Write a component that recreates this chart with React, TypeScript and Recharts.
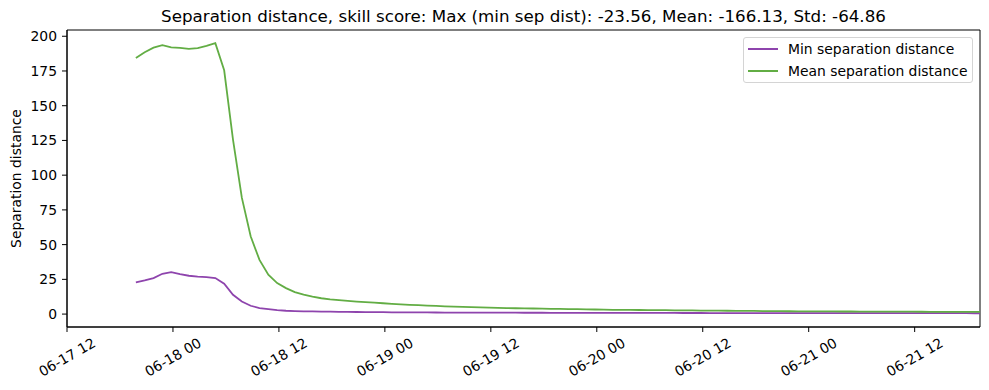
import { LineChart, Line, XAxis, YAxis, Legend, ReferenceArea, Label } from 'recharts';

// hours after 06-17 12:00 of the first sample; samples are hourly
const START_HOUR = 7.8;

const X_TICKS = [0, 12, 24, 36, 48, 60, 72, 84, 96];
const X_TICK_LABELS = ['06-17 12', '06-18 00', '06-18 12', '06-19 00', '06-19 12', '06-20 00', '06-20 12', '06-21 00', '06-21 12'];
const Y_TICKS = [0, 25, 50, 75, 100, 125, 150, 175, 200];

const minSepDist = [
  22.8, 24.2, 25.9, 29.0, 30.2, 28.8, 27.6, 26.9, 26.6, 25.9,
  21.8, 13.9, 9.1, 6.0, 4.3, 3.6, 2.9, 2.4, 2.2, 2.0,
  1.9, 1.8, 1.7, 1.6, 1.55, 1.5, 1.45, 1.4, 1.35, 1.3,
  1.27, 1.24, 1.21, 1.18, 1.15, 1.12, 1.1, 1.08, 1.06, 1.04,
  1.02, 1.0, 0.99, 0.98, 0.97, 0.96, 0.95, 0.94, 0.93, 0.92,
  0.91, 0.9, 0.89, 0.88, 0.87, 0.86, 0.85, 0.84, 0.83, 0.82,
  0.81, 0.8, 0.79, 0.78, 0.77, 0.76, 0.76, 0.75, 0.75, 0.74,
  0.74, 0.73, 0.73, 0.72, 0.72, 0.71, 0.71, 0.7, 0.7, 0.69,
  0.69, 0.68, 0.68, 0.67, 0.67, 0.66, 0.66, 0.65, 0.65, 0.64,
  0.64, 0.63, 0.63, 0.62, 0.62, 0.61, 0.61,
];

const meanSepDist = [
  184.4, 188.5, 191.8, 193.6, 192.0, 191.7, 190.9, 191.5, 193.0, 195.0,
  175.5, 125.6, 83.8, 56.0, 39.0, 28.3, 22.3, 18.7, 15.8, 14.0,
  12.6, 11.4, 10.6, 10.0, 9.5, 9.0, 8.6, 8.2, 7.8, 7.4,
  7.0, 6.7, 6.4, 6.1, 5.9, 5.6, 5.4, 5.2, 5.0, 4.8,
  4.6, 4.5, 4.3, 4.2, 4.1, 4.0, 3.9, 3.8, 3.7, 3.6,
  3.5, 3.4, 3.3, 3.2, 3.1, 3.05, 3.0, 2.95, 2.9, 2.85,
  2.8, 2.7, 2.65, 2.6, 2.55, 2.5, 2.45, 2.4, 2.35, 2.3,
  2.25, 2.2, 2.15, 2.1, 2.05, 2.0, 1.98, 1.95, 1.92, 1.9,
  1.87, 1.85, 1.82, 1.8, 1.78, 1.76, 1.74, 1.72, 1.7, 1.68,
  1.66, 1.64, 1.62, 1.6, 1.58, 1.56, 1.55,
];

const data = meanSepDist.map((mean, i) => ({
  t: START_HOUR + i,
  min: minSepDist[i],
  mean,
}));

const FONT = 'DejaVu Sans, sans-serif';
const FS = 13.9;
const PURPLE = '#8e44ad';
const GREEN = '#62ad44';

const XTick = (props: any) => {
  const { x, y, payload } = props;
  const cy = y + 23;
  return (
    <text x={x} y={cy} transform={`rotate(-30 ${x} ${cy})`} textAnchor="middle" dominantBaseline="central"
      fontSize={FS} fontFamily={FONT} fill="#000">
      {X_TICK_LABELS[X_TICKS.indexOf(payload.value)]}
    </text>
  );
};

const renderLegend = () => (
  <div style={{
    border: '1px solid #d4d4d4', borderRadius: 3, background: 'rgba(255,255,255,0.8)',
    width: 228, height: 44, boxSizing: 'content-box', fontFamily: FONT, fontSize: FS, color: '#000',
  }}>
    {[['Min separation distance', PURPLE], ['Mean separation distance', GREEN]].map(([name, color], i) => (
      <div key={name} style={{ position: 'absolute', left: 5, top: 1.5 + i * 22.4, height: 20, display: 'flex', alignItems: 'center' }}>
        <span style={{ display: 'inline-block', width: 30, height: 2, background: color, marginRight: 10 }} />
        <span>{name}</span>
      </div>
    ))}
  </div>
);

export default function App() {
  return (
    <div style={{ position: 'absolute', left: 0, top: 0, width: 989, height: 390, background: '#fff' }}>
      <div style={{
        position: 'absolute', left: 67, width: 913, top: 8, textAlign: 'center',
        fontFamily: FONT, fontSize: 16.7, lineHeight: '17px', color: '#000',
      }}>
        Separation distance, skill score: Max (min sep dist): -23.56, Mean: -166.13, Std: -64.86
      </div>
      <LineChart width={989} height={390} data={data} margin={{ top: 30, right: 9, bottom: 0, left: 0 }}>
        <XAxis dataKey="t" type="number" domain={[0, 103.4]} ticks={X_TICKS} allowDataOverflow
          tick={<XTick />} tickSize={5} tickLine={{ stroke: '#000' }} axisLine={{ stroke: '#000' }} height={63} />
        <YAxis type="number" domain={[-9.3, 204.5]} ticks={Y_TICKS} allowDataOverflow width={67}
          tickSize={5} tickMargin={5} tickLine={{ stroke: '#000' }} axisLine={{ stroke: '#000' }}
          tick={{ fontSize: FS, fontFamily: FONT, fill: '#000' }}>
          <Label content={() => (
            <text x={16} y={178.5} transform="rotate(-90 16 178.5)" textAnchor="middle" dominantBaseline="central"
              fontSize={FS} fontFamily={FONT} fill="#000">Separation distance</text>
          )} />
        </YAxis>
        <ReferenceArea x1={0} x2={103.4} y1={-9.3} y2={204.5} fill="none" stroke="#000" strokeWidth={1} />
        <Line dataKey="min" name="Min separation distance" stroke={PURPLE} strokeWidth={1.8} dot={false} isAnimationActive={false} />
        <Line dataKey="mean" name="Mean separation distance" stroke={GREEN} strokeWidth={1.8} dot={false} isAnimationActive={false} />
        <Legend layout="horizontal" verticalAlign="middle" align="center" content={renderLegend}
          wrapperStyle={{ left: 743, top: 37, width: 230, height: 46 }} />
      </LineChart>
    </div>
  );
}
